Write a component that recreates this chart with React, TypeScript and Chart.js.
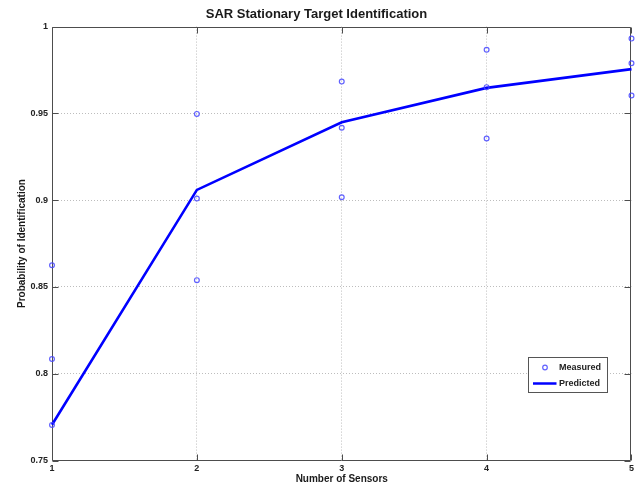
import React, { useEffect, useRef } from 'react';
import { Chart, registerables } from 'chart.js';

Chart.register(...registerables);

const FONT = "'Liberation Sans', Arial, Helvetica, sans-serif";

const titleText = 'SAR Stationary Target Identification';
const xAxisTitle = 'Number of Sensors';
const yAxisTitle = 'Probability of Identification';
const seriesNames = ['Measured', 'Predicted'];

const sensorCounts = [1, 2, 3, 4, 5];
const measuredSensors = [1, 1, 1, 2, 2, 2, 3, 3, 3, 4, 4, 4, 5, 5, 5];
const measuredValues = [
  0.8625, 0.8085, 0.7705,
  0.9497, 0.9009, 0.8539,
  0.9683, 0.9417, 0.9017,
  0.9866, 0.9651, 0.9355,
  0.9931, 0.9789, 0.9603,
];
const predictedValues = [0.7706, 0.9059, 0.9449, 0.9647, 0.9755];

const xTicks = [1, 2, 3, 4, 5];
const xTickLabels = ['1', '2', '3', '4', '5'];
const yTicks = [0.75, 0.8, 0.85, 0.9, 0.95, 1];
const yTickLabels = ['0.75', '0.8', '0.85', '0.9', '0.95', '1'];

const MEASURED_COLOR = 'rgba(70,70,255,0.85)';
const PREDICTED_COLOR = '#0000ff';
const GRID_COLOR = '#bdbdbd';

const innerGrid = (min: number, max: number) => (c: any) => {
  const v = c.tick ? c.tick.value : NaN;
  if (Math.abs(v - min) < 1e-9 || Math.abs(v - max) < 1e-9) return 'rgba(0,0,0,0)';
  return GRID_COLOR;
};

const boxPlugin = {
  id: 'matlabBox',
  beforeDatasetsDraw(chart: any) {
    const { ctx, chartArea, scales } = chart;
    const { left, right, top, bottom } = chartArea;
    const L = Math.round(left) + 0.5;
    const R = Math.round(right) - 0.5;
    const T = Math.round(top) + 0.5;
    const B = Math.round(bottom) - 0.5;
    ctx.save();
    ctx.strokeStyle = '#4d4d4d';
    ctx.lineWidth = 1;
    ctx.setLineDash([]);
    ctx.beginPath();
    ctx.rect(L, T, R - L, B - T);
    ctx.stroke();
    const tl = 6;
    ctx.beginPath();
    xTicks.forEach((v) => {
      const px = Math.round(scales.x.getPixelForValue(v)) + 0.5;
      ctx.moveTo(px, B);
      ctx.lineTo(px, B - tl);
      ctx.moveTo(px, T);
      ctx.lineTo(px, T + tl);
    });
    yTicks.forEach((v) => {
      const py = Math.round(scales.y.getPixelForValue(v)) + 0.5;
      ctx.moveTo(L, py);
      ctx.lineTo(L + tl, py);
      ctx.moveTo(R, py);
      ctx.lineTo(R - tl, py);
    });
    ctx.stroke();
    ctx.restore();
  },
  afterDraw(chart: any) {
    const { ctx, chartArea } = chart;
    const w = 79;
    const h = 35;
    const x0 = Math.round(chartArea.right - 24 - w) + 0.5;
    const y0 = Math.round(chartArea.bottom - 68.5 - h) + 0.5;
    ctx.save();
    ctx.fillStyle = '#ffffff';
    ctx.fillRect(x0, y0, w, h);
    ctx.strokeStyle = '#555555';
    ctx.lineWidth = 1;
    ctx.strokeRect(x0, y0, w, h);
    ctx.font = `bold 9px ${FONT}`;
    ctx.fillStyle = '#222222';
    ctx.textBaseline = 'middle';
    ctx.textAlign = 'left';
    const row1 = y0 + 10;
    const row2 = y0 + 26;
    ctx.beginPath();
    ctx.strokeStyle = MEASURED_COLOR;
    ctx.lineWidth = 1.2;
    ctx.arc(x0 + 16.5, row1, 2.3, 0, Math.PI * 2);
    ctx.stroke();
    ctx.fillText(seriesNames[0], x0 + 30.5, row1);
    ctx.beginPath();
    ctx.strokeStyle = PREDICTED_COLOR;
    ctx.lineWidth = 2.5;
    ctx.moveTo(x0 + 4.5, row2);
    ctx.lineTo(x0 + 28, row2);
    ctx.stroke();
    ctx.fillText(seriesNames[1], x0 + 30.5, row2);
    ctx.restore();
  },
};

export default function App() {
  const ref = useRef<HTMLCanvasElement | null>(null);

  useEffect(() => {
    document.body.style.margin = '0';
    const canvas = ref.current;
    if (!canvas) return;
    const chart = new Chart(canvas, {
      type: 'scatter',
      data: {
        datasets: [
          {
            label: seriesNames[0],
            data: measuredSensors.map((s, i) => ({ x: s, y: measuredValues[i] })),
            showLine: false,
            pointStyle: 'circle',
            pointRadius: 2.4,
            pointBorderWidth: 1.2,
            borderColor: MEASURED_COLOR,
            backgroundColor: 'rgba(0,0,0,0)',
            clip: false,
            order: 1,
          },
          {
            label: seriesNames[1],
            data: sensorCounts.map((s, i) => ({ x: s, y: predictedValues[i] })),
            showLine: true,
            pointRadius: 0,
            borderColor: PREDICTED_COLOR,
            backgroundColor: PREDICTED_COLOR,
            borderWidth: 2.6,
            tension: 0,
            clip: false,
            order: 2,
          },
        ],
      },
      options: {
        responsive: false,
        animation: false,
        devicePixelRatio: 1,
        layout: { padding: { left: 0, right: 4, top: 0, bottom: 0 } },
        plugins: {
          legend: { display: false },
          tooltip: { enabled: false },
          title: {
            display: true,
            text: titleText,
            color: '#1a1a1a',
            font: { family: FONT, size: 13, weight: 'bold' },
            padding: { top: 7, bottom: 4 },
          },
        },
        scales: {
          x: {
            type: 'linear',
            min: 1,
            max: 5,
            afterBuildTicks: (scale: any) => {
              scale.ticks = xTicks.map((v) => ({ value: v }));
            },
            afterFit: (scale: any) => {
              scale.height = 24.5;
            },
            ticks: {
              padding: 3,
              color: '#222222',
              font: { family: FONT, size: 9, weight: 'bold' },
              callback: (_v: any, i: number) => xTickLabels[i],
              maxRotation: 0,
            },
            grid: {
              drawTicks: false,
              color: innerGrid(1, 5),
              lineWidth: 1,
            },
            border: { display: false, dash: [1, 2] },
            title: {
              display: true,
              text: xAxisTitle,
              color: '#1a1a1a',
              font: { family: FONT, size: 10, weight: 'bold' },
              padding: { top: 0, bottom: 0 },
            },
          },
          y: {
            type: 'linear',
            min: 0.75,
            max: 1,
            afterBuildTicks: (scale: any) => {
              scale.ticks = yTicks.map((v) => ({ value: v }));
            },
            afterFit: (scale: any) => {
              scale.width = 52;
            },
            ticks: {
              padding: 4,
              color: '#222222',
              font: { family: FONT, size: 9, weight: 'bold' },
              callback: (_v: any, i: number) => yTickLabels[i],
            },
            grid: {
              drawTicks: false,
              color: innerGrid(0.75, 1),
              lineWidth: 1,
            },
            border: { display: false, dash: [1, 2] },
            title: {
              display: true,
              text: yAxisTitle,
              color: '#1a1a1a',
              font: { family: FONT, size: 10, weight: 'bold' },
              padding: { top: 16, bottom: 0 },
            },
          },
        },
      },
      plugins: [boxPlugin],
    });
    return () => chart.destroy();
  }, []);

  return (
    <div style={{ width: 637, height: 485, background: '#ffffff' }}>
      <canvas ref={ref} width={637} height={485} style={{ display: 'block' }} />
    </div>
  );
}
